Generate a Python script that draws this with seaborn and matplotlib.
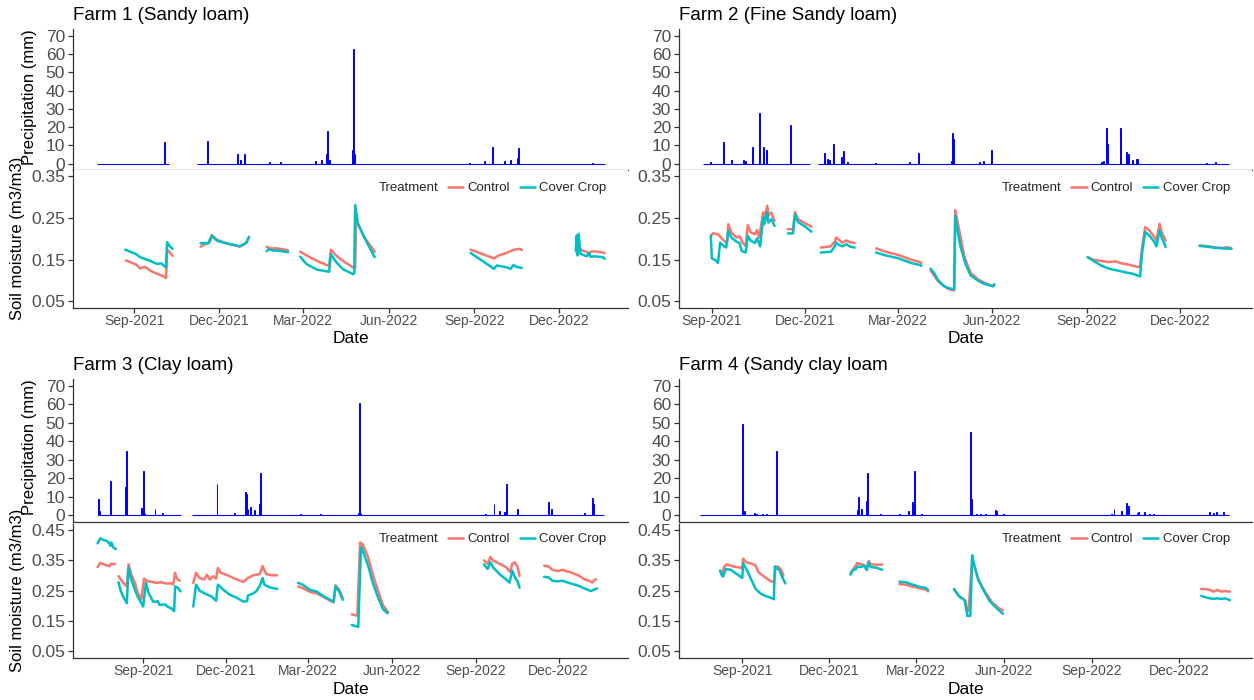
import matplotlib
matplotlib.use("Agg")
import matplotlib.pyplot as plt
import matplotlib.dates as mdates
from matplotlib.lines import Line2D
import pandas as pd
import seaborn as sns

# ---------------- data ----------------
FARM_TITLES = ["Farm 1 (Sandy loam)", "Farm 2 (Fine Sandy loam)",
               "Farm 3 (Clay loam)", "Farm 4 (Sandy clay loam"]
TREATMENTS = ["Control", "Cover Crop"]
PRECIP_TICKS = [0, 10, 20, 30, 40, 50, 60, 70]
SOIL_TICKS_TOP = [0.05, 0.15, 0.25, 0.35]
SOIL_TICKS_BOTTOM = [0.05, 0.15, 0.25, 0.35, 0.45]
X_TICKS = ["2021-09-01", "2021-12-01", "2022-03-01", "2022-06-01", "2022-09-01", "2022-12-01"]

F1_CONTROL = [
    [("2021-08-23", 0.148), ("2021-09-03", 0.138), ("2021-09-07", 0.129), ("2021-09-12", 0.133), ("2021-09-21", 0.120),
     ("2021-09-28", 0.114), ("2021-10-02", 0.110), ("2021-10-05", 0.106), ("2021-10-06", 0.174), ("2021-10-08", 0.170),
     ("2021-10-12", 0.159)],
    [("2021-11-11", 0.181), ("2021-11-16", 0.187), ("2021-11-21", 0.192), ("2021-11-23", 0.209), ("2021-11-29", 0.197),
     ("2021-12-09", 0.189), ("2021-12-20", 0.183), ("2021-12-23", 0.181), ("2021-12-30", 0.190), ("2022-01-02", 0.205)],
    [("2022-01-21", 0.181), ("2022-01-25", 0.177), ("2022-02-01", 0.177), ("2022-02-07", 0.175), ("2022-02-13", 0.172)],
    [("2022-02-26", 0.169), ("2022-03-09", 0.155), ("2022-03-20", 0.143), ("2022-03-29", 0.135), ("2022-03-31", 0.174),
     ("2022-04-06", 0.159), ("2022-04-13", 0.147), ("2022-04-24", 0.131), ("2022-04-26", 0.130), ("2022-04-27", 0.245),
     ("2022-05-05", 0.206), ("2022-05-17", 0.169)],
    [("2022-08-28", 0.174), ("2022-09-09", 0.164), ("2022-09-22", 0.153), ("2022-09-27", 0.160), ("2022-10-03", 0.164),
     ("2022-10-14", 0.174), ("2022-10-20", 0.176), ("2022-10-22", 0.173)],
    [("2022-12-19", 0.178), ("2022-12-22", 0.180), ("2022-12-26", 0.172), ("2023-01-01", 0.167), ("2023-01-03", 0.166),
     ("2023-01-05", 0.170), ("2023-01-12", 0.169), ("2023-01-19", 0.166)],
]
F1_COVER = [
    [("2021-08-22", 0.174), ("2021-09-03", 0.163), ("2021-09-07", 0.156), ("2021-09-18", 0.147), ("2021-09-25", 0.140),
     ("2021-09-30", 0.141), ("2021-10-05", 0.131), ("2021-10-06", 0.192), ("2021-10-09", 0.182), ("2021-10-12", 0.176)],
    [("2021-11-11", 0.189), ("2021-11-16", 0.190), ("2021-11-19", 0.189), ("2021-11-23", 0.207), ("2021-11-29", 0.195),
     ("2021-12-09", 0.189), ("2021-12-20", 0.184), ("2021-12-23", 0.182), ("2021-12-30", 0.190), ("2022-01-02", 0.204)],
    [("2022-01-21", 0.170), ("2022-01-23", 0.175), ("2022-01-28", 0.172), ("2022-02-04", 0.171), ("2022-02-13", 0.168)],
    [("2022-02-26", 0.157), ("2022-03-05", 0.139), ("2022-03-16", 0.126), ("2022-03-29", 0.121), ("2022-03-31", 0.163),
     ("2022-04-06", 0.143), ("2022-04-13", 0.127), ("2022-04-24", 0.115), ("2022-04-25", 0.118), ("2022-04-26", 0.281),
     ("2022-04-29", 0.237), ("2022-05-07", 0.198), ("2022-05-17", 0.156)],
    [("2022-08-28", 0.166), ("2022-09-09", 0.148), ("2022-09-22", 0.128), ("2022-09-25", 0.136), ("2022-10-05", 0.132),
     ("2022-10-10", 0.128), ("2022-10-13", 0.137), ("2022-10-16", 0.133), ("2022-10-22", 0.130)],
    [("2022-12-19", 0.170), ("2022-12-20", 0.208), ("2022-12-21", 0.160), ("2022-12-22", 0.212), ("2022-12-24", 0.164),
     ("2022-12-31", 0.158), ("2023-01-02", 0.166), ("2023-01-04", 0.157), ("2023-01-08", 0.158), ("2023-01-17", 0.156),
     ("2023-01-19", 0.152)],
]
F1_RAIN = [("2021-10-03", 12), ("2021-11-18", 12.5), ("2021-12-21", 5.5), ("2021-12-24", 2), ("2021-12-28", 5),
           ("2022-01-24", 1), ("2022-02-05", 1), ("2022-03-14", 1.5), ("2022-03-21", 2), ("2022-03-26", 5),
           ("2022-03-27", 18), ("2022-03-29", 2), ("2022-04-23", 7.5), ("2022-04-24", 62.5), ("2022-04-25", 5),
           ("2022-08-27", 0.5), ("2022-09-12", 1.5), ("2022-09-20", 9), ("2022-10-03", 1.5), ("2022-10-10", 2),
           ("2022-10-17", 3), ("2022-10-18", 8.5), ("2023-01-06", 0.5)]
F1_RECORD = [("2021-07-23", "2021-10-08"), ("2021-11-07", "2023-01-19")]

F2_CONTROL = [
    [("2021-08-31", 0.207), ("2021-09-02", 0.213), ("2021-09-07", 0.211), ("2021-09-10", 0.203), ("2021-09-13", 0.195),
     ("2021-09-16", 0.191), ("2021-09-17", 0.235), ("2021-09-20", 0.215), ("2021-09-25", 0.203), ("2021-09-28", 0.206),
     ("2021-10-01", 0.191), ("2021-10-04", 0.182), ("2021-10-06", 0.233), ("2021-10-09", 0.215), ("2021-10-13", 0.211),
     ("2021-10-15", 0.221), ("2021-10-17", 0.203), ("2021-10-21", 0.263), ("2021-10-22", 0.251), ("2021-10-25", 0.279),
     ("2021-10-26", 0.256), ("2021-10-29", 0.263), ("2021-11-01", 0.243)],
    [("2021-11-14", 0.223), ("2021-11-19", 0.223), ("2021-11-21", 0.264), ("2021-11-24", 0.247), ("2021-12-01", 0.237),
     ("2021-12-07", 0.229)],
    [("2021-12-16", 0.179), ("2021-12-26", 0.182), ("2021-12-30", 0.195), ("2021-12-31", 0.203), ("2022-01-03", 0.197),
     ("2022-01-06", 0.191), ("2022-01-10", 0.196), ("2022-01-13", 0.192), ("2022-01-18", 0.190)],
    [("2022-02-08", 0.177), ("2022-02-16", 0.170), ("2022-03-02", 0.161), ("2022-03-14", 0.150), ("2022-03-23", 0.144),
     ("2022-03-24", 0.142)],
    [("2022-04-02", 0.124), ("2022-04-09", 0.099), ("2022-04-19", 0.080), ("2022-04-25", 0.076), ("2022-04-26", 0.269),
     ("2022-04-30", 0.219), ("2022-05-05", 0.156), ("2022-05-11", 0.118), ("2022-05-18", 0.103), ("2022-05-24", 0.095),
     ("2022-05-30", 0.089), ("2022-06-02", 0.087), ("2022-06-03", 0.090)],
    [("2022-09-02", 0.156), ("2022-09-07", 0.150), ("2022-09-15", 0.147), ("2022-09-23", 0.144), ("2022-09-29", 0.146),
     ("2022-10-05", 0.141), ("2022-10-12", 0.138), ("2022-10-18", 0.134), ("2022-10-23", 0.132), ("2022-10-25", 0.180),
     ("2022-10-28", 0.228), ("2022-11-01", 0.220), ("2022-11-06", 0.204), ("2022-11-08", 0.196), ("2022-11-11", 0.236),
     ("2022-11-13", 0.216), ("2022-11-17", 0.196)],
    [("2022-12-20", 0.184), ("2022-12-28", 0.182), ("2023-01-05", 0.179), ("2023-01-12", 0.178), ("2023-01-15", 0.180),
     ("2023-01-20", 0.177)],
]
F2_COVER = [
    [("2021-08-31", 0.207), ("2021-09-01", 0.153), ("2021-09-05", 0.148), ("2021-09-07", 0.142), ("2021-09-09", 0.191),
     ("2021-09-13", 0.182), ("2021-09-15", 0.179), ("2021-09-17", 0.219), ("2021-09-20", 0.203), ("2021-09-25", 0.193),
     ("2021-09-28", 0.190), ("2021-09-30", 0.171), ("2021-10-04", 0.167), ("2021-10-06", 0.207), ("2021-10-09", 0.195),
     ("2021-10-13", 0.190), ("2021-10-15", 0.201), ("2021-10-18", 0.182), ("2021-10-21", 0.251), ("2021-10-22", 0.235),
     ("2021-10-25", 0.264), ("2021-10-26", 0.239), ("2021-10-29", 0.247), ("2021-11-01", 0.231)],
    [("2021-11-14", 0.213), ("2021-11-19", 0.213), ("2021-11-21", 0.259), ("2021-11-24", 0.240), ("2021-12-01", 0.229),
     ("2021-12-07", 0.217)],
    [("2021-12-16", 0.167), ("2021-12-26", 0.169), ("2021-12-30", 0.183), ("2021-12-31", 0.191), ("2022-01-03", 0.185),
     ("2022-01-06", 0.182), ("2022-01-10", 0.187), ("2022-01-13", 0.182), ("2022-01-18", 0.179)],
    [("2022-02-08", 0.167), ("2022-02-16", 0.161), ("2022-03-02", 0.153), ("2022-03-14", 0.142), ("2022-03-23", 0.137),
     ("2022-03-24", 0.135)],
    [("2022-04-02", 0.128), ("2022-04-06", 0.116), ("2022-04-09", 0.102), ("2022-04-14", 0.088), ("2022-04-19", 0.082),
     ("2022-04-25", 0.079), ("2022-04-26", 0.255), ("2022-04-28", 0.223), ("2022-05-01", 0.183), ("2022-05-06", 0.140),
     ("2022-05-11", 0.112), ("2022-05-18", 0.100), ("2022-05-24", 0.092), ("2022-05-30", 0.088), ("2022-06-02", 0.086),
     ("2022-06-03", 0.091)],
    [("2022-09-02", 0.156), ("2022-09-07", 0.148), ("2022-09-15", 0.136), ("2022-09-23", 0.128), ("2022-10-01", 0.124),
     ("2022-10-08", 0.120), ("2022-10-16", 0.116), ("2022-10-23", 0.110), ("2022-10-25", 0.168), ("2022-10-28", 0.216),
     ("2022-11-01", 0.208), ("2022-11-06", 0.192), ("2022-11-08", 0.182), ("2022-11-11", 0.220), ("2022-11-13", 0.204),
     ("2022-11-17", 0.180)],
    [("2022-12-20", 0.183), ("2022-12-28", 0.181), ("2023-01-05", 0.178), ("2023-01-12", 0.177), ("2023-01-20", 0.176)],
]
F2_RAIN = [("2021-08-31", 1), ("2021-09-12", 12), ("2021-09-20", 2), ("2021-10-02", 2), ("2021-10-04", 1.5),
           ("2021-10-11", 9), ("2021-10-17", 27.5), ("2021-10-21", 9), ("2021-10-24", 7.5), ("2021-11-17", 21),
           ("2021-12-20", 6), ("2021-12-23", 2.5), ("2021-12-25", 2), ("2021-12-28", 11), ("2022-01-05", 3.5),
           ("2022-01-07", 7), ("2022-01-11", 1), ("2022-02-07", 0.5), ("2022-03-12", 1), ("2022-03-21", 6),
           ("2022-04-22", 1.5), ("2022-04-23", 16.5), ("2022-04-24", 13.5), ("2022-05-20", 1), ("2022-05-24", 1.5),
           ("2022-05-31", 7.5), ("2022-09-15", 1), ("2022-09-17", 1.5), ("2022-09-20", 19.5), ("2022-09-21", 11),
           ("2022-10-04", 19.5), ("2022-10-10", 6.5), ("2022-10-12", 5.5), ("2022-10-16", 2), ("2022-10-20", 2.5),
           ("2022-12-27", 0.5), ("2023-01-04", 1)]
F2_RECORD = [("2021-08-23", "2021-12-06"), ("2021-12-13", "2023-01-18")]

F3_CONTROL = [
    [("2021-07-13", 0.328), ("2021-07-16", 0.342), ("2021-07-21", 0.336), ("2021-07-26", 0.331), ("2021-07-28", 0.339),
     ("2021-07-31", 0.337), ("2021-08-01", 0.339)],
    [("2021-08-05", 0.298), ("2021-08-10", 0.276), ("2021-08-14", 0.265), ("2021-08-16", 0.337), ("2021-08-19", 0.303),
     ("2021-08-23", 0.276), ("2021-08-26", 0.242), ("2021-08-30", 0.222), ("2021-09-02", 0.290), ("2021-09-06", 0.281),
     ("2021-09-12", 0.279), ("2021-09-15", 0.276), ("2021-09-21", 0.278), ("2021-09-26", 0.274), ("2021-10-02", 0.274),
     ("2021-10-04", 0.271), ("2021-10-06", 0.309), ("2021-10-08", 0.290), ("2021-10-11", 0.283)],
    [("2021-10-26", 0.276), ("2021-10-29", 0.309), ("2021-11-02", 0.292), ("2021-11-07", 0.287), ("2021-11-10", 0.303),
     ("2021-11-13", 0.287), ("2021-11-17", 0.298), ("2021-11-20", 0.290), ("2021-11-22", 0.325), ("2021-11-25", 0.310),
     ("2021-12-01", 0.303), ("2021-12-09", 0.292), ("2021-12-13", 0.287), ("2021-12-20", 0.279), ("2021-12-25", 0.292),
     ("2021-12-31", 0.301), ("2022-01-07", 0.305), ("2022-01-10", 0.331), ("2022-01-14", 0.305), ("2022-01-20", 0.301),
     ("2022-01-26", 0.301)],
    [("2022-02-18", 0.264), ("2022-02-23", 0.259), ("2022-03-03", 0.246), ("2022-03-10", 0.242), ("2022-03-17", 0.231),
     ("2022-03-27", 0.214), ("2022-03-29", 0.212), ("2022-03-31", 0.268), ("2022-04-04", 0.254), ("2022-04-08", 0.226)],
    [("2022-04-18", 0.172), ("2022-04-24", 0.168), ("2022-04-27", 0.409), ("2022-04-30", 0.403), ("2022-05-06", 0.359),
     ("2022-05-11", 0.303), ("2022-05-17", 0.248), ("2022-05-22", 0.203), ("2022-05-28", 0.179)],
    [("2022-09-10", 0.350), ("2022-09-14", 0.339), ("2022-09-17", 0.361), ("2022-09-20", 0.350), ("2022-09-27", 0.339),
     ("2022-10-04", 0.328), ("2022-10-09", 0.311), ("2022-10-11", 0.339), ("2022-10-14", 0.344), ("2022-10-17", 0.328),
     ("2022-10-19", 0.299)],
    [("2022-11-15", 0.333), ("2022-11-20", 0.330), ("2022-11-24", 0.319), ("2022-11-30", 0.315), ("2022-12-05", 0.319),
     ("2022-12-14", 0.311), ("2022-12-23", 0.300), ("2022-12-29", 0.288), ("2023-01-03", 0.283), ("2023-01-07", 0.277),
     ("2023-01-09", 0.285), ("2023-01-11", 0.288)],
]
F3_COVER = [
    [("2021-07-13", 0.406), ("2021-07-16", 0.423), ("2021-07-19", 0.418), ("2021-07-23", 0.414), ("2021-07-26", 0.406),
     ("2021-07-27", 0.398), ("2021-07-28", 0.409), ("2021-07-30", 0.394), ("2021-08-02", 0.387)],
    [("2021-08-05", 0.278), ("2021-08-07", 0.253), ("2021-08-10", 0.231), ("2021-08-14", 0.209), ("2021-08-16", 0.326),
     ("2021-08-19", 0.287), ("2021-08-23", 0.253), ("2021-08-26", 0.231), ("2021-08-30", 0.209), ("2021-09-01", 0.198),
     ("2021-09-04", 0.276), ("2021-09-07", 0.242), ("2021-09-12", 0.214), ("2021-09-15", 0.214), ("2021-09-17", 0.216),
     ("2021-09-19", 0.203), ("2021-09-25", 0.205), ("2021-09-28", 0.197), ("2021-10-02", 0.192), ("2021-10-05", 0.183),
     ("2021-10-06", 0.264), ("2021-10-09", 0.260), ("2021-10-12", 0.248)],
    [("2021-10-26", 0.198), ("2021-10-29", 0.270), ("2021-11-02", 0.250), ("2021-11-09", 0.239), ("2021-11-15", 0.231),
     ("2021-11-20", 0.217), ("2021-11-22", 0.270), ("2021-11-28", 0.253), ("2021-12-05", 0.237), ("2021-12-12", 0.228),
     ("2021-12-20", 0.214), ("2021-12-24", 0.216), ("2021-12-25", 0.234), ("2021-12-31", 0.242), ("2022-01-03", 0.248),
     ("2022-01-07", 0.266), ("2022-01-10", 0.292), ("2022-01-12", 0.270), ("2022-01-18", 0.261), ("2022-01-26", 0.256)],
    [("2022-02-18", 0.276), ("2022-02-23", 0.270), ("2022-03-03", 0.253), ("2022-03-10", 0.248), ("2022-03-17", 0.234),
     ("2022-03-27", 0.217), ("2022-03-29", 0.214), ("2022-03-31", 0.264), ("2022-04-04", 0.248), ("2022-04-08", 0.220)],
    [("2022-04-18", 0.137), ("2022-04-25", 0.131), ("2022-04-28", 0.394), ("2022-04-30", 0.382), ("2022-05-06", 0.331),
     ("2022-05-11", 0.276), ("2022-05-17", 0.226), ("2022-05-22", 0.190), ("2022-05-27", 0.176)],
    [("2022-09-10", 0.337), ("2022-09-14", 0.322), ("2022-09-17", 0.344), ("2022-09-20", 0.327), ("2022-09-27", 0.305),
     ("2022-10-04", 0.288), ("2022-10-08", 0.277), ("2022-10-11", 0.316), ("2022-10-14", 0.294), ("2022-10-17", 0.280),
     ("2022-10-19", 0.260)],
    [("2022-11-15", 0.296), ("2022-11-20", 0.294), ("2022-11-24", 0.283), ("2022-11-30", 0.281), ("2022-12-05", 0.283),
     ("2022-12-14", 0.274), ("2022-12-23", 0.266), ("2022-12-29", 0.258), ("2023-01-05", 0.249), ("2023-01-09", 0.254),
     ("2023-01-12", 0.258)],
]
F3_RAIN = [("2021-07-14", 8.5), ("2021-07-15", 2), ("2021-07-27", 18.5), ("2021-08-13", 15), ("2021-08-14", 34.5),
           ("2021-08-30", 4), ("2021-09-01", 24), ("2021-09-03", 1), ("2021-09-14", 3), ("2021-09-22", 1),
           ("2021-11-21", 17), ("2021-12-10", 1), ("2021-12-22", 12.5), ("2021-12-23", 11.5), ("2021-12-25", 3.5),
           ("2021-12-28", 4.5), ("2022-01-01", 2.5), ("2022-01-07", 6), ("2022-01-08", 23), ("2022-02-21", 0.5),
           ("2022-03-15", 0.5), ("2022-04-25", 1), ("2022-04-26", 60.5), ("2022-04-28", 1), ("2022-09-12", 0.5),
           ("2022-09-21", 6), ("2022-09-27", 2), ("2022-10-02", 1.5), ("2022-10-05", 17), ("2022-10-17", 3),
           ("2022-11-20", 7), ("2022-11-23", 3.5), ("2022-12-29", 1), ("2023-01-07", 9), ("2023-01-08", 6)]
F3_RECORD = [("2021-07-14", "2021-10-12"), ("2021-10-25", "2023-01-20")]

F4_CONTROL = [
    [("2021-08-09", 0.314), ("2021-08-11", 0.300), ("2021-08-13", 0.328), ("2021-08-16", 0.337), ("2021-08-23", 0.330),
     ("2021-08-30", 0.326), ("2021-09-01", 0.323), ("2021-09-02", 0.356), ("2021-09-05", 0.344), ("2021-09-11", 0.339),
     ("2021-09-15", 0.333), ("2021-09-18", 0.311), ("2021-09-25", 0.294), ("2021-09-30", 0.283), ("2021-10-04", 0.278),
     ("2021-10-06", 0.330), ("2021-10-09", 0.328), ("2021-10-12", 0.317), ("2021-10-14", 0.300)],
    [("2021-12-23", 0.308), ("2021-12-27", 0.326), ("2021-12-30", 0.341), ("2022-01-05", 0.336), ("2022-01-09", 0.328),
     ("2022-01-11", 0.348), ("2022-01-13", 0.337), ("2022-01-19", 0.336), ("2022-01-25", 0.336)],
    [("2022-02-12", 0.272), ("2022-02-19", 0.270), ("2022-02-26", 0.263), ("2022-03-05", 0.259), ("2022-03-12", 0.253),
     ("2022-03-14", 0.248)],
    [("2022-04-10", 0.256), ("2022-04-15", 0.233), ("2022-04-22", 0.217), ("2022-04-23", 0.183), ("2022-04-25", 0.183),
     ("2022-04-27", 0.261), ("2022-04-29", 0.359), ("2022-05-01", 0.333), ("2022-05-06", 0.283), ("2022-05-13", 0.244),
     ("2022-05-20", 0.211), ("2022-05-27", 0.192), ("2022-05-31", 0.186)],
    [("2022-12-24", 0.256), ("2022-12-29", 0.255), ("2023-01-02", 0.253), ("2023-01-06", 0.247), ("2023-01-10", 0.253),
     ("2023-01-14", 0.247), ("2023-01-18", 0.249), ("2023-01-23", 0.247)],
]
F4_COVER = [
    [("2021-08-09", 0.317), ("2021-08-11", 0.300), ("2021-08-12", 0.297), ("2021-08-15", 0.322), ("2021-08-20", 0.319),
     ("2021-08-25", 0.308), ("2021-08-30", 0.297), ("2021-09-01", 0.292), ("2021-09-02", 0.341), ("2021-09-06", 0.317),
     ("2021-09-11", 0.283), ("2021-09-15", 0.256), ("2021-09-20", 0.241), ("2021-09-25", 0.233), ("2021-09-30", 0.228),
     ("2021-10-04", 0.222), ("2021-10-05", 0.330), ("2021-10-10", 0.317), ("2021-10-12", 0.300), ("2021-10-16", 0.274)],
    [("2021-12-23", 0.303), ("2021-12-25", 0.317), ("2021-12-29", 0.322), ("2021-12-30", 0.330), ("2022-01-03", 0.328),
     ("2022-01-06", 0.333), ("2022-01-09", 0.318), ("2022-01-11", 0.344), ("2022-01-13", 0.328), ("2022-01-19", 0.326),
     ("2022-01-25", 0.319)],
    [("2022-02-12", 0.280), ("2022-02-19", 0.278), ("2022-02-26", 0.270), ("2022-03-05", 0.263), ("2022-03-12", 0.259),
     ("2022-03-14", 0.252)],
    [("2022-04-10", 0.256), ("2022-04-15", 0.233), ("2022-04-21", 0.219), ("2022-04-23", 0.189), ("2022-04-24", 0.167),
     ("2022-04-27", 0.167), ("2022-04-29", 0.367), ("2022-04-30", 0.350), ("2022-05-05", 0.289), ("2022-05-10", 0.256),
     ("2022-05-17", 0.217), ("2022-05-24", 0.194), ("2022-05-31", 0.174)],
    [("2022-12-24", 0.233), ("2022-12-29", 0.228), ("2023-01-02", 0.225), ("2023-01-06", 0.223), ("2023-01-10", 0.225),
     ("2023-01-14", 0.223), ("2023-01-18", 0.225), ("2023-01-23", 0.219)],
]
F4_RAIN = [("2021-09-01", 49.5), ("2021-09-03", 2), ("2021-09-14", 1), ("2021-09-16", 0.5), ("2021-09-22", 0.5),
           ("2021-09-26", 0.5), ("2021-10-07", 34.5), ("2021-12-30", 2.5), ("2021-12-31", 9.5), ("2022-01-03", 3),
           ("2022-01-09", 7.5), ("2022-01-10", 22.5), ("2022-01-23", 0.5), ("2022-02-12", 0.5), ("2022-02-22", 2),
           ("2022-02-26", 7), ("2022-02-28", 24), ("2022-03-07", 0.5), ("2022-04-27", 45), ("2022-04-28", 8.5),
           ("2022-05-03", 0.5), ("2022-05-08", 0.5), ("2022-05-13", 0.5), ("2022-05-23", 2.5), ("2022-05-24", 2),
           ("2022-06-01", 0.5), ("2022-09-21", 0.5), ("2022-09-24", 3), ("2022-10-02", 2), ("2022-10-07", 6.5),
           ("2022-10-09", 5), ("2022-10-18", 1), ("2022-10-20", 1.5), ("2022-10-26", 1.5), ("2022-10-31", 0.5),
           ("2022-11-04", 0.5), ("2023-01-02", 1.5), ("2023-01-06", 1), ("2023-01-09", 1.5), ("2023-01-16", 1.5)]
F4_RECORD = [("2021-07-19", "2023-01-22")]

X_LIMITS = [("2021-06-27", "2023-02-13"), ("2021-07-31", "2023-02-09"),
            ("2021-06-16", "2023-02-15"), ("2021-06-27", "2023-02-15")]

# ---------------- style ----------------
sns.set_style("ticks")
plt.rcParams["font.family"] = ["Liberation Sans", "DejaVu Sans"]
PALETTE = {"Control": "#F8766D", "Cover Crop": "#00BFC4"}
TICK_GRAY = "#4D4D4D"
AXIS_COL = "#333333"

W, H = 1254, 700
fig = plt.figure(figsize=(W / 100, H / 100), dpi=100)


def rect(x0, y0, x1, y1):
    return [x0 / W, 1 - y1 / H, (x1 - x0) / W, (y1 - y0) / H]


def soil_frame(control, cover):
    rows = []
    for treat, segs in zip(TREATMENTS, (control, cover)):
        for i, seg in enumerate(segs):
            for d, v in seg:
                rows.append({"Date": pd.Timestamp(d), "SM": v, "Treatment": treat, "Seg": f"{treat}-{i}"})
    return pd.DataFrame(rows)


def style_axis(ax):
    for s in ("top", "right"):
        ax.spines[s].set_visible(False)
    for s in ("left", "bottom"):
        ax.spines[s].set_color(AXIS_COL)
        ax.spines[s].set_linewidth(0.9)
    ax.tick_params(axis="both", colors=AXIS_COL, length=3.8, width=0.9, pad=2)
    ax.set_xlabel("")
    ax.set_ylabel("")


FARMS = [(F1_CONTROL, F1_COVER, F1_RAIN, F1_RECORD),
         (F2_CONTROL, F2_COVER, F2_RAIN, F2_RECORD),
         (F3_CONTROL, F3_COVER, F3_RAIN, F3_RECORD),
         (F4_CONTROL, F4_COVER, F4_RAIN, F4_RECORD)]

COLS = [(73, 628), (679, 1252)]
PRECIP_ROWS = [(29.3, 170.0), (379.3, 521.5)]
SOIL_ROWS = [(170.0, 307.6), (524.0, 657.5)]
TITLE_Y = [15, 365]
DATE_Y = [339, 690]
LEGEND_Y = [0.867, 0.885]

for k, (ctrl, cov, rain, record) in enumerate(FARMS):
    r, c = divmod(k, 2)
    x0, x1 = COLS[c]
    xlim = (pd.Timestamp(X_LIMITS[k][0]), pd.Timestamp(X_LIMITS[k][1]))

    # ---- precipitation panel ----
    axp = fig.add_axes(rect(x0, PRECIP_ROWS[r][0], x1, PRECIP_ROWS[r][1]))
    for s, e in record:
        axp.hlines(0, pd.Timestamp(s), pd.Timestamp(e), colors="blue", linewidth=0.8)
    rd = pd.DataFrame(rain, columns=["Date", "P"])
    rd["Date"] = pd.to_datetime(rd["Date"])
    axp.bar(rd["Date"], rd["P"], width=1.0, color="blue", edgecolor="blue", linewidth=0.7)
    axp.set_xlim(*xlim)
    axp.set_ylim(-3.5, 73.5)
    axp.set_yticks(PRECIP_TICKS)
    axp.set_yticklabels([str(t) for t in PRECIP_TICKS])
    style_axis(axp)
    axp.tick_params(axis="x", bottom=False, labelbottom=False)
    axp.tick_params(axis="y", labelsize=12.5, labelcolor=TICK_GRAY)

    # ---- soil moisture panel ----
    axs = fig.add_axes(rect(x0, SOIL_ROWS[r][0], x1, SOIL_ROWS[r][1]))
    df = soil_frame(ctrl, cov)
    sns.lineplot(data=df, x="Date", y="SM", hue="Treatment", hue_order=TREATMENTS,
                 units="Seg", estimator=None, palette=PALETTE, linewidth=1.8,
                 legend=False, ax=axs)
    axs.set_xlim(*xlim)
    ticks = SOIL_TICKS_TOP if r == 0 else SOIL_TICKS_BOTTOM
    axs.set_ylim(ticks[0] - 0.05 * (ticks[-1] - ticks[0]), ticks[-1] + 0.05 * (ticks[-1] - ticks[0]))
    axs.set_yticks(ticks)
    axs.set_yticklabels([f"{t:.2f}" for t in ticks])
    axs.set_xticks([pd.Timestamp(t) for t in X_TICKS])
    axs.xaxis.set_major_formatter(mdates.DateFormatter("%b-%Y"))
    style_axis(axs)
    axs.tick_params(axis="y", labelsize=12.5, labelcolor=TICK_GRAY)
    axs.tick_params(axis="x", labelsize=10, labelcolor=TICK_GRAY, pad=0.8)

    # legend with inline title
    handles = [Line2D([], [], color=PALETTE[t], linewidth=1.8) for t in TREATMENTS]
    leg = axs.legend(handles, TREATMENTS, title="Treatment", ncol=2, loc="center right",
                     bbox_to_anchor=(0.961, LEGEND_Y[r]), frameon=False, fontsize=9.5,
                     title_fontsize=9.5, handlelength=1.15, handletextpad=0.32,
                     columnspacing=0.75, borderpad=0, borderaxespad=0)
    vp = leg.get_children()[0]
    title_box, hpack = vp.get_children()
    vp._children = [hpack]
    hpack._children = [title_box] + hpack.get_children()

    # texts
    fig.text(x0 / W, 1 - TITLE_Y[r] / H, FARM_TITLES[k], ha="left", va="center", fontsize=13.5, color="black")
    fig.text(((x0 + x1) / 2) / W, 1 - DATE_Y[r] / H, "Date", ha="center", va="center", fontsize=12.5, color="black")
    if c == 0:
        pc = (PRECIP_ROWS[r][0] + PRECIP_ROWS[r][1]) / 2 - 3
        sc = (SOIL_ROWS[r][0] + SOIL_ROWS[r][1]) / 2
        fig.text(30 / W, 1 - pc / H, "Precipitation (mm)", rotation=90, ha="center", va="center",
                 fontsize=12, color="black")
        fig.text(18 / W, 1 - sc / H, "Soil moisture (m3/m3)", rotation=90, ha="center", va="center",
                 fontsize=12, color="black")

fig.savefig("out.png", dpi=100)
